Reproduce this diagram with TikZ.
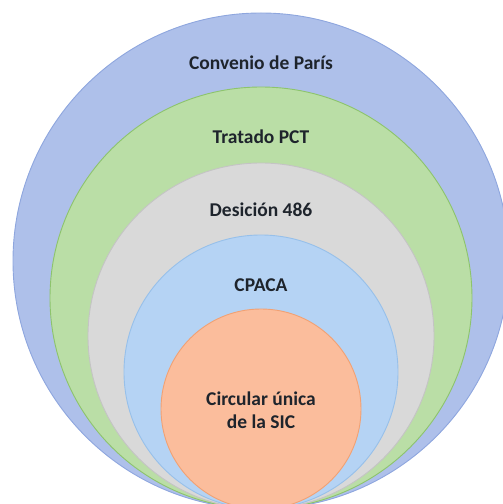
\documentclass[tikz,border=0pt]{standalone}
\usepackage{fontspec}
\setmainfont{Carlito}
\usepackage{tikz}
\usetikzlibrary{positioning}
\definecolor{parisfill}{HTML}{AEC0EA}
\definecolor{parisline}{HTML}{8EA6DE}
\definecolor{pctfill}{HTML}{BADEA6}
\definecolor{pctline}{HTML}{8DC46C}
\definecolor{decfill}{HTML}{D9D9D9}
\definecolor{decline}{HTML}{C4C4C4}
\definecolor{cpacafill}{HTML}{B5D3F4}
\definecolor{cpacaline}{HTML}{97C0EA}
\definecolor{sicfill}{HTML}{FBBD9C}
\definecolor{sicline}{HTML}{F2A173}
\definecolor{txt}{HTML}{1E242C}
\tikzset{
  ring/.style={circle, inner sep=0pt, line width=0.9pt},
  tag/.style={font=\fontsize{19.5}{22.5}\selectfont\bfseries, text=txt, align=center}
}
\begin{document}
\begin{tikzpicture}[x=1pt,y=1pt]
  \useasboundingbox (0,0) rectangle (503,504);
  \node[ring, fill=parisfill, draw=parisline, minimum size=496pt] (Paris) at (261,243) {};
  \node[ring, fill=pctfill, draw=pctline, minimum size=422pt] (PCT) at (261,206) {};
  \node[ring, fill=decfill, draw=decline, minimum size=346pt] (Dec) at (261,168) {};
  \node[ring, fill=cpacafill, draw=cpacaline, minimum size=274pt] (CPACA) at (261,132) {};
  \node[ring, fill=sicfill, draw=sicline, minimum size=200pt] (SIC) at (261,95) {};
  % labels
  \node[tag] (ParisL) at (261,441) {Convenio de París};
  \node[tag] (PCTL) at (261,367) {Tratado PCT};
  \node[tag] (DecL) at (261,294) {Desición 486};
  \node[tag] (CPACAL) at (261,219) {CPACA};
  \node[tag] (SICL) at (261,94) {Circular única\\de la SIC};
\end{tikzpicture}
\end{document}
